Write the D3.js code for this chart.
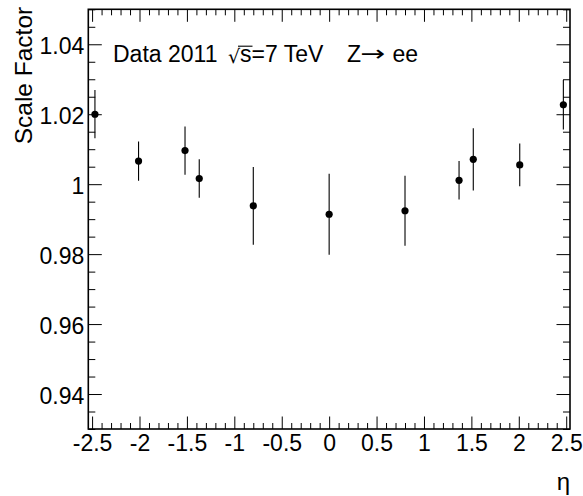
<!DOCTYPE html>
<html>
<head>
<meta charset="utf-8">
<script src="https://cdn.jsdelivr.net/npm/d3@7/dist/d3.min.js"></script>
<style>
  html, body { margin: 0; padding: 0; background: #fff; }
  svg { display: block; }
  text { font-family: "Liberation Sans", Arial, Helvetica, sans-serif; fill: #000; }
</style>
</head>
<body>
<svg id="chart" width="583" height="496"></svg>
<script>
// ---- data ----
const eta = [-2.47, -2.01, -1.52, -1.37, -0.8, 0, 0.8, 1.37, 1.52, 2.01, 2.47];
const scaleFactor = [1.0200, 1.0066, 1.0096, 1.0016, 0.9938, 0.9914, 0.9924, 1.0011, 1.0071, 1.0055, 1.0227];
const scaleFactorErr = [0.0069, 0.0056, 0.0069, 0.0055, 0.0111, 0.0116, 0.0100, 0.0055, 0.0089, 0.0061, 0.0071];
const xMajorTicks = [-2.5, -2, -1.5, -1, -0.5, 0, 0.5, 1, 1.5, 2, 2.5];
const yMajorTicks = [0.94, 0.96, 0.98, 1.00, 1.02, 1.04];
const xDomain = [-2.54, 2.54];
const yDomain = [0.93, 1.05];
const xTitle = "η";
const yTitle = "Scale Factor";

// ---- layout ----
const pL = 88.3, pR = 570, pT = 9.3, pB = 429;
const svg = d3.select("#chart");
const x = d3.scaleLinear().domain(xDomain).range([pL, pR]);
const y = d3.scaleLinear().domain(yDomain).range([pB, pT]);

const xMinor = d3.range(-25, 26).map(i => i / 10).filter(v => !xMajorTicks.some(m => Math.abs(m - v) < 1e-9));
const yMinor = d3.range(186, 211).map(i => i * 0.005).filter(v => v >= yDomain[0] - 1e-9 && v <= yDomain[1] + 1e-9 && !yMajorTicks.some(m => Math.abs(m - v) < 1e-9));

const fmt = v => String(+v.toFixed(2));
const fontSize = 23;

function styleAxis(g) {
  g.select(".domain").remove();
  g.selectAll("line").attr("stroke", "#000").attr("stroke-width", 1);
  g.selectAll("text").style("font-size", fontSize + "px").attr("fill", "#000")
   .style("font-family", '"Liberation Sans", Arial, sans-serif');
}

// bottom axis
svg.append("g").attr("transform", `translate(0,${pB})`)
  .call(d3.axisBottom(x).tickValues(xMinor).tickSize(-6).tickFormat(""))
  .call(styleAxis);
svg.append("g").attr("transform", `translate(0,${pB})`)
  .call(d3.axisBottom(x).tickValues(xMajorTicks).tickSize(-12.5).tickPadding(5.7).tickFormat(fmt))
  .call(styleAxis);
// top axis
svg.append("g").attr("transform", `translate(0,${pT})`)
  .call(d3.axisTop(x).tickValues(xMinor).tickSize(-6).tickFormat(""))
  .call(styleAxis);
svg.append("g").attr("transform", `translate(0,${pT})`)
  .call(d3.axisTop(x).tickValues(xMajorTicks).tickSize(-12.5).tickFormat(""))
  .call(styleAxis);
// left axis
svg.append("g").attr("transform", `translate(${pL},0)`)
  .call(d3.axisLeft(y).tickValues(yMinor).tickSize(-7).tickFormat(""))
  .call(styleAxis);
svg.append("g").attr("transform", `translate(${pL},0)`)
  .call(d3.axisLeft(y).tickValues(yMajorTicks).tickSize(-13.5).tickPadding(4).tickFormat(fmt))
  .call(styleAxis)
  .selectAll("text").attr("dy", "0.41em");
// right axis
svg.append("g").attr("transform", `translate(${pR},0)`)
  .call(d3.axisRight(y).tickValues(yMinor).tickSize(-7).tickFormat(""))
  .call(styleAxis);
svg.append("g").attr("transform", `translate(${pR},0)`)
  .call(d3.axisRight(y).tickValues(yMajorTicks).tickSize(-13.5).tickFormat(""))
  .call(styleAxis);

// frame
svg.append("rect")
  .attr("x", pL).attr("y", pT)
  .attr("width", pR - pL).attr("height", pB - pT)
  .attr("fill", "none").attr("stroke", "#000").attr("stroke-width", 1.6);

// error bars
const pts = eta.map((e, i) => ({ e, v: scaleFactor[i], err: scaleFactorErr[i] }));
svg.append("g").selectAll("line").data(pts).join("line")
  .attr("x1", d => x(d.e)).attr("x2", d => x(d.e))
  .attr("y1", d => y(d.v + d.err)).attr("y2", d => y(d.v - d.err))
  .attr("stroke", "#000").attr("stroke-width", 1.1);
// markers
svg.append("g").selectAll("circle").data(pts).join("circle")
  .attr("cx", d => x(d.e)).attr("cy", d => y(d.v)).attr("r", 3.6)
  .attr("fill", "#000");

// axis titles
svg.append("text")
  .attr("transform", `translate(32,${pT - 2.5}) rotate(-90)`)
  .attr("text-anchor", "end")
  .style("font-size", "24.5px")
  .text(yTitle);
svg.append("text")
  .attr("x", pR).attr("y", 490)
  .attr("text-anchor", "end")
  .style("font-size", "24px")
  .text(xTitle);

// label
const lab = svg.append("g").style("font-size", "23px");
const base = 62.3;
lab.append("text").attr("x", 113).attr("y", base).text("Data 2011");
lab.append("text").attr("x", 228).attr("y", base + 1)
  .style("font-family", '"DejaVu Sans", sans-serif').style("font-size", "19px").text("√");
lab.append("text").attr("x", 240).attr("y", base).text("s=7 TeV");
lab.append("line").attr("x1", 238).attr("x2", 252.5).attr("y1", 46.2).attr("y2", 46.2)
  .attr("stroke", "#000").attr("stroke-width", 1.1);
lab.append("text").attr("x", 347).attr("y", base).text("Z");
lab.append("text").attr("x", 360.5).attr("y", base - 1)
  .attr("textLength", 25).attr("lengthAdjust", "spacingAndGlyphs")
  .style("font-family", '"DejaVu Sans", sans-serif').style("font-size", "22px").text("→");
lab.append("text").attr("x", 392.5).attr("y", base).text("ee");
</script>
</body>
</html>
